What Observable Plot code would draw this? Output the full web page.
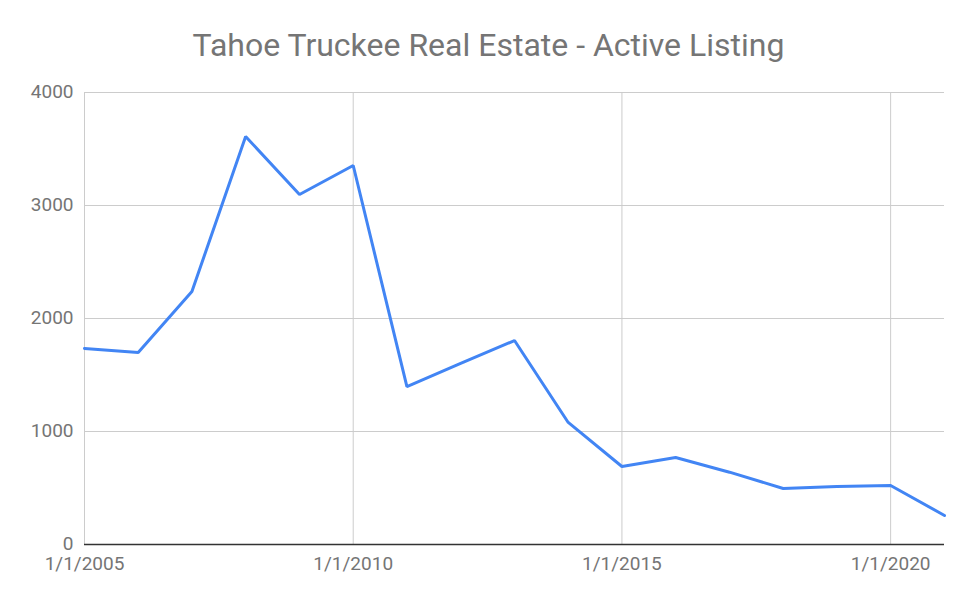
<!DOCTYPE html>
<html>
<head>
<meta charset="utf-8">
<script src="https://cdn.jsdelivr.net/npm/d3@7"></script>
<script src="https://cdn.jsdelivr.net/npm/@observablehq/plot@0.6"></script>
<style>
  body { margin: 0; background: #fff; font-family: Roboto, "Noto Sans", sans-serif; }
  #title { height: 80px; line-height: 90px; text-align: center; font-size: 32px; color: #757575; font-family: Roboto, sans-serif; }
</style>
</head>
<body>
<div id="title">Tahoe Truckee Real Estate - Active Listing</div>
<div id="chart"></div>
<script>
const years = [2005, 2006, 2007, 2008, 2009, 2010, 2011, 2012, 2013, 2014, 2015, 2016, 2017, 2018, 2019, 2020, 2021];
const listings = [1735, 1699, 2239, 3611, 3097, 3354, 1398, 1602, 1805, 1080, 690, 770, 640, 496, 513, 522, 257];
const yTicks = [0, 1000, 2000, 3000, 4000];
const xTickYears = [2005, 2010, 2015, 2020];

const data = years.map((y, i) => ({date: new Date(y, 0, 1), value: listings[i]}));
const xTicks = xTickYears.map(y => new Date(y, 0, 1));

const chart = Plot.plot({
  width: 977,
  height: 524,
  marginTop: 12,
  marginBottom: 60,
  marginLeft: 84,
  marginRight: 33,
  style: {fontFamily: "Roboto, sans-serif", fontSize: "19px", color: "#757575", background: "#fff"},
  x: {type: "time", domain: [new Date(2005, 0, 1), new Date(2021, 0, 1)], label: null},
  y: {domain: [0, 4000], label: null},
  marks: [
    Plot.gridY(yTicks, {stroke: "#cccccc", strokeOpacity: 1, strokeWidth: 1}),
    Plot.gridX(xTicks, {stroke: "#cccccc", strokeOpacity: 1, strokeWidth: 1}),
    Plot.axisY(yTicks, {tickSize: 0, tickPadding: 11, dy: -1, fill: "#757575", fontSize: 19, tickFormat: d => String(d)}),
    Plot.axisX(xTicks, {tickSize: 0, tickPadding: 12, fill: "#757575", fontSize: 19, tickFormat: d => `1/1/${d.getFullYear()}`}),
    Plot.ruleY([0], {stroke: "#333333", strokeWidth: 1.5}),
    Plot.line(data, {x: "date", y: "value", stroke: "#4285F4", strokeWidth: 3, strokeLinejoin: "miter"})
  ]
});
document.getElementById("chart").appendChild(chart);
</script>
</body>
</html>
